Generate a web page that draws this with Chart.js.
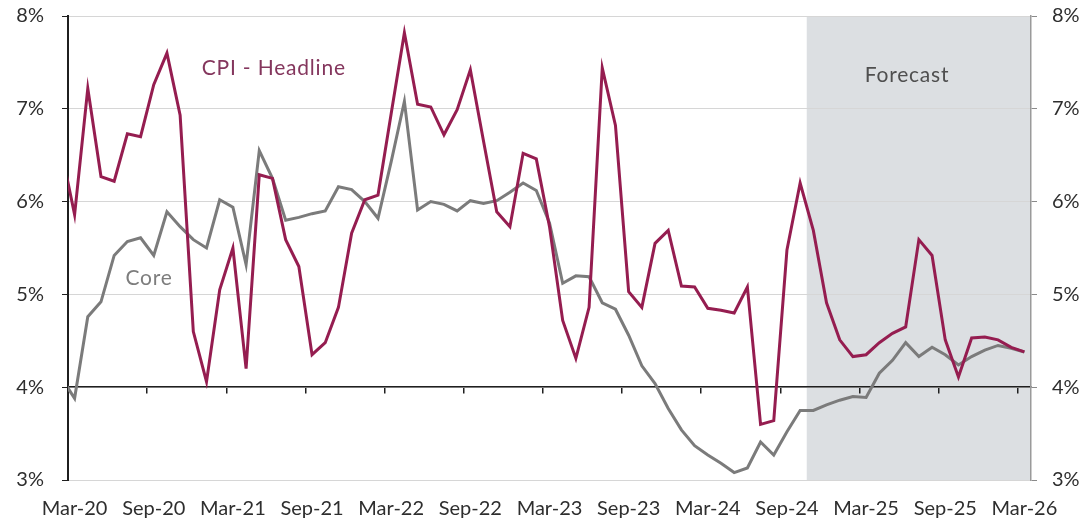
<!DOCTYPE html>
<html>
<head>
<meta charset="utf-8">
<script src="https://cdn.jsdelivr.net/npm/chart.js@4.4.1/dist/chart.umd.min.js"></script>
<style>
  html, body { margin: 0; padding: 0; background: #fff; }
  #wrap { width: 1088px; height: 523px; }
</style>
</head>
<body>
<div id="wrap"><canvas id="cpiChart" width="1088" height="523"></canvas></div>
<script>
// Monthly categories, Feb-20 .. Mar-26 (Feb-20 sits just outside the axis and is clipped)
const monthNames = ['Jan','Feb','Mar','Apr','May','Jun','Jul','Aug','Sep','Oct','Nov','Dec'];
const months = [];
for (let i = 0; i < 74; i++) {
  const m = (1 + i) % 12;
  const yr = 20 + Math.floor((1 + i) / 12);
  months.push(monthNames[m] + '-' + yr);
}

// CPI - Headline, year-on-year %
const headline = [
  6.55,
  5.86, 7.22, 6.27, 6.22, 6.73, 6.70, 7.26, 7.60, 6.93, 4.60,   // Mar-20 .. Dec-20
  4.06, 5.05, 5.50, 4.20, 6.29, 6.25, 5.59, 5.30, 4.35, 4.48, 4.86, 5.66,   // 2021
  6.02, 6.07, 6.95, 7.82, 7.05, 7.02, 6.72, 6.99, 7.42, 6.65, 5.89, 5.73,   // 2022
  6.52, 6.46, 5.73, 4.72, 4.31, 4.86, 7.44, 6.82, 5.03, 4.86, 5.55, 5.69,   // 2023
  5.09, 5.08, 4.85, 4.83, 4.80, 5.08, 3.60, 3.64, 5.48, 6.20, 5.69, 4.91,   // 2024
  4.51, 4.33, 4.35, 4.48, 4.58, 4.65, 5.59, 5.42, 4.51, 4.11, 4.53, 4.54,   // 2025
  4.51, 4.43, 4.38                                                          // 2026
];

// Core, year-on-year %
const core = [
  4.10,
  3.88, 4.76, 4.92, 5.42, 5.57, 5.61, 5.42, 5.89, 5.73, 5.59,
  5.50, 6.02, 5.94, 5.32, 6.55, 6.25, 5.80, 5.83, 5.87, 5.90, 6.16, 6.13,
  6.00, 5.82, 6.43, 7.08, 5.91, 6.00, 5.97, 5.90, 6.01, 5.98, 6.01, 6.10,
  6.20, 6.12, 5.77, 5.12, 5.20, 5.19, 4.91, 4.84, 4.56, 4.23, 4.04, 3.77,
  3.54, 3.37, 3.27, 3.18, 3.08, 3.13, 3.41, 3.27, 3.52, 3.75, 3.75, 3.81,
  3.86, 3.90, 3.89, 4.15, 4.29, 4.48, 4.33, 4.43, 4.35, 4.24, 4.33, 4.40,
  4.45, 4.42, 4.38
];

const tickLabels = ['Mar-20','Sep-20','Mar-21','Sep-21','Mar-22','Sep-22','Mar-23','Sep-23','Mar-24','Sep-24','Mar-25','Sep-25','Mar-26'];
const yTicks = [3, 4, 5, 6, 7, 8];
const forecastStart = 'Nov-24';

const toPoints = arr => arr.map((v, i) => ({ x: i, y: v }));
const labelIdx = tickLabels.map(l => months.indexOf(l));
const boundaryIdx = labelIdx.slice(1).map(i => i - 0.5);
const xMin = 0.5, xMax = months.length - 0.5;

const tickFont = { family: 'Lato', size: 20 };

// Shaded forecast band, drawn under the grid
const forecastBand = {
  id: 'forecastBand',
  beforeDraw(chart) {
    const { ctx, chartArea, scales } = chart;
    const x0 = scales.x.getPixelForValue(months.indexOf(forecastStart) - 0.5);
    ctx.save();
    ctx.fillStyle = '#dcdfe2';
    ctx.fillRect(x0, chartArea.top, chartArea.right - x0, chartArea.bottom - chartArea.top);
    ctx.restore();
  }
};

// Series names and forecast label
const annotations = {
  id: 'annotations',
  afterDatasetsDraw(chart) {
    const { ctx, scales } = chart;
    const items = [
      { text: 'CPI - Headline', x: 16.1, y: 7.44, color: '#84365d' },
      { text: 'Core', x: 6.64, y: 5.17, color: '#7d7d7d' },
      { text: 'Forecast', x: 64.1, y: 7.36, color: '#4f4f4f' }
    ];
    ctx.save();
    ctx.font = '21px Lato';
    ctx.letterSpacing = '0.8px';
    ctx.textAlign = 'center';
    ctx.textBaseline = 'middle';
    items.forEach(it => {
      ctx.fillStyle = it.color;
      ctx.fillText(it.text, scales.x.getPixelForValue(it.x), scales.y.getPixelForValue(it.y));
    });
    ctx.restore();
  }
};

// fixed axis sizes so the plot area lines up with the original
const fixY = width => s => { s.width = width; s.paddingTop = 0; s.paddingBottom = 0; };

const ctx = document.getElementById('cpiChart').getContext('2d');
new Chart(ctx, {
  type: 'line',
  data: {
    datasets: [
      {
        label: 'CPI - Headline',
        data: toPoints(headline),
        borderColor: '#951d50',
        borderWidth: 3,
        pointRadius: 0,
        tension: 0,
        clip: 0
      },
      {
        label: 'Core',
        data: toPoints(core),
        borderColor: '#7b7b7b',
        borderWidth: 3,
        pointRadius: 0,
        tension: 0,
        clip: 0
      }
    ]
  },
  options: {
    responsive: false,
    animation: false,
    devicePixelRatio: 1,
    layout: { padding: { top: 16, left: 0, right: 0, bottom: 0 } },
    plugins: { legend: { display: false }, tooltip: { enabled: false } },
    scales: {
      x: {
        type: 'linear',
        position: 'bottom',
        min: xMin,
        max: xMax,
        afterBuildTicks: s => { s.ticks = labelIdx.map(v => ({ value: v })); },
        ticks: {
          autoSkip: false,
          maxRotation: 0,
          padding: 9,
          color: '#2e2e2e',
          font: tickFont,
          callback: v => months[v]
        },
        grid: { display: false },
        border: { display: false },
        afterFit: s => { s.height = 43; s.paddingLeft = 0; s.paddingRight = 0; }
      },
      xAxis4: {
        type: 'linear',
        axis: 'x',
        position: { y: 4 },
        min: xMin,
        max: xMax,
        afterBuildTicks: s => { s.ticks = boundaryIdx.map(v => ({ value: v })); },
        ticks: { display: false },
        grid: { drawOnChartArea: false, drawTicks: true, tickLength: 6, color: '#1f1f1f', lineWidth: 1.5 },
        border: { color: '#1f1f1f', width: 1.5 }
      },
      y: {
        position: 'left',
        min: 3,
        max: 8,
        afterBuildTicks: s => { s.ticks = yTicks.map(v => ({ value: v })); },
        ticks: { padding: 18, color: '#2e2e2e', font: tickFont, callback: v => v + '%' },
        grid: { color: '#d6d6d6', lineWidth: 1, tickColor: '#1f1f1f', tickLength: 6 },
        border: { color: '#1f1f1f', width: 2 },
        afterFit: fixY(68)
      },
      y2: {
        position: 'right',
        min: 3,
        max: 8,
        afterBuildTicks: s => { s.ticks = yTicks.map(v => ({ value: v })); },
        ticks: { padding: 15, color: '#2e2e2e', font: tickFont, callback: v => v + '%' },
        grid: { drawOnChartArea: false, tickColor: '#8a8a8a', tickLength: 6 },
        border: { color: '#9a9a9a', width: 1.5 },
        afterFit: fixY(57)
      }
    }
  },
  plugins: [forecastBand, annotations]
});
</script>
</body>
</html>
